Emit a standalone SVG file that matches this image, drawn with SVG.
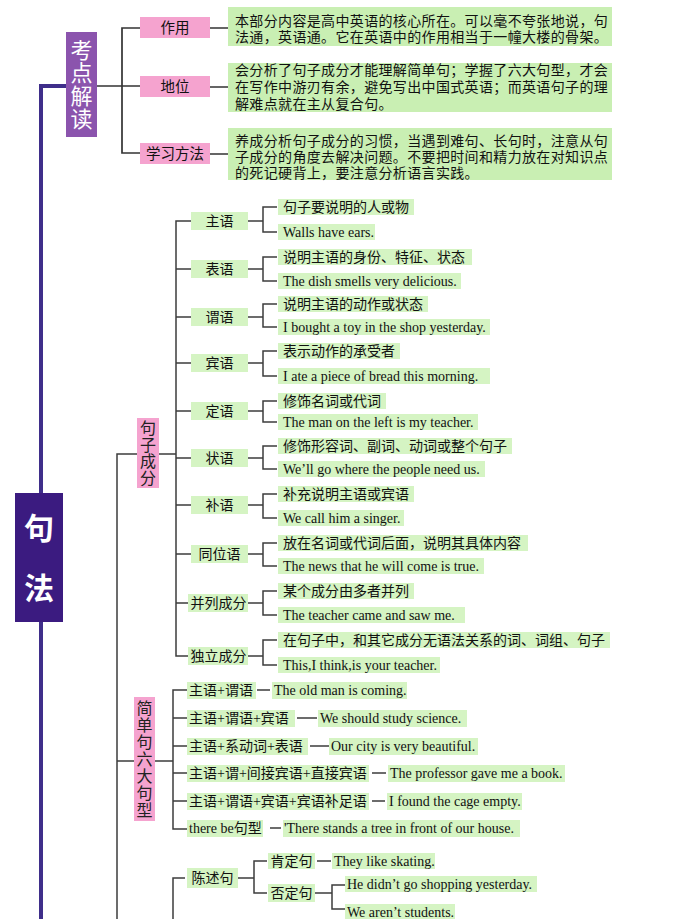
<svg xmlns="http://www.w3.org/2000/svg" width="690" height="919" viewBox="0 0 690 919">
<style>
.pk{fill:#f5a3cf}
.gr{fill:#d5f4c3}
.gt{fill:#c9efb3}
.t{font-family:"Liberation Serif","Noto Sans CJK SC",serif;font-size:14px;fill:#111}
.tc{font-family:"Liberation Serif","Noto Sans CJK SC",serif;font-size:14px;fill:#111;text-anchor:middle}
.tp{font-family:"Noto Sans CJK SC",sans-serif;font-size:14px;fill:#111;letter-spacing:0.35px}
.v{font-family:"Noto Sans CJK SC",sans-serif;font-size:16px;fill:#222;text-anchor:middle;writing-mode:vertical-rl}
.w{font-family:"Noto Sans CJK SC",sans-serif;fill:#fff;text-anchor:middle;writing-mode:vertical-rl}
.ln{stroke:#3d3d3d;stroke-width:1.5;fill:none}
.lt{stroke:#333;stroke-width:1.7;fill:none}
</style>
<rect width="690" height="919" fill="#fff"/>
<g id="connectors">
<path d="M66,86 H41 V919" stroke="#3f2e8a" stroke-width="4" fill="none"/>
<path class="lt" d="M97,86 H140 M140,28 H122 V153 H140 M210,28 H228 M210,87 H228 M210,154 H228"/>
<path class="ln" d="M117,919 V454 H137 M159,454 H176 M191,221 H176 V656 H188 M176,269 H191 M176,317 H191 M176,363 H191 M176,411 H191 M176,458 H191 M176,505 H191 M176,554 H191 M176,603 H188"/>
<path class="ln" d="M248,221 H263 M277,207 H263 V232 H277 M248,269 H263 M277,257 H263 V281 H277 M248,317 H263 M277,304 H263 V327 H277 M248,363 H263 M277,351 H263 V376 H277 M248,411 H263 M277,401 H263 V422 H277 M248,458 H263 M277,446 H263 V469 H277 M248,505 H263 M277,494 H263 V518 H277 M248,554 H263 M277,543 H263 V566 H277 M248,603 H263 M277,591 H263 V615 H277 M248,656 H263 M277,640 H263 V665 H277"/>
<path class="ln" d="M117,761 H134 M155,761 H173 M187,690 H173 V829 H187 M173,718 H187 M173,746 H187 M173,773 H187 M173,801 H187"/>
<path class="ln" d="M257,690 H270 M297,718 H317 M310,746 H329 M372,773 H386 M372,801 H385 M270,828 H281"/>
<path class="ln" d="M185,878 H173 V919 M238,878 H254 M267,861 H254 V893 H267 M317,861 H331 M315,893 H332 M345,885 H332 V909 H345"/>
</g>
<g id="node-kaodian">
<rect x="66" y="32" width="31" height="105" fill="#8b54ad"/>
<text class="w" x="81.5" y="85" font-size="22" letter-spacing="1">考点解读</text>
</g>
<g id="node-jufa">
<rect x="15" y="493" width="48" height="129" fill="#3b1b80"/>
<text class="w" x="39" y="573" font-size="30" font-weight="bold" letter-spacing="30">句法</text>
</g>
<g id="node-zuoyong">
<rect class="pk" x="140" y="17" width="70" height="21"/>
<text class="tc" x="175" y="33" style="font-size:14.5px">作用</text>
</g>
<g id="node-zuoyong-text">
<rect class="gt" x="228" y="7" width="384" height="39"/>
<text class="tp"><tspan x="235" y="26">本部分内容是高中英语的核心所在。可以毫不夸张地说，句</tspan><tspan x="235" y="42">法通，英语通。它在英语中的作用相当于一幢大楼的骨架。</tspan></text>
</g>
<g id="node-diwei">
<rect class="pk" x="140" y="76" width="70" height="21"/>
<text class="tc" x="175" y="92" style="font-size:14.5px">地位</text>
</g>
<g id="node-diwei-text">
<rect class="gt" x="228" y="63" width="384" height="49"/>
<text class="tp"><tspan x="235" y="75">会分析了句子成分才能理解简单句；学握了六大句型，才会</tspan><tspan x="235" y="92">在写作中游刃有余，避免写出中国式英语；而英语句子的理</tspan><tspan x="235" y="109">解难点就在主从复合句。</tspan></text>
</g>
<g id="node-fangfa">
<rect class="pk" x="140" y="143" width="70" height="21"/>
<text class="tc" x="175" y="159" style="font-size:14.5px">学习方法</text>
</g>
<g id="node-fangfa-text">
<rect class="gt" x="228" y="128" width="384" height="52"/>
<text class="tp"><tspan x="235" y="146">养成分析句子成分的习惯，当遇到难句、长句时，注意从句</tspan><tspan x="235" y="162">子成分的角度去解决问题。不要把时间和精力放在对知识点</tspan><tspan x="235" y="178">的死记硬背上，要注意分析语言实践。</tspan></text>
</g>
<g id="node-juzichengfen">
<rect class="pk" x="137" y="418" width="22" height="70"/>
<text class="v" x="148" y="453" letter-spacing="0.5">句子成分</text>
</g>
<g id="node-zhuyu">
<rect class="gr" x="191" y="212" width="57" height="18"/>
<text class="tc" x="219.5" y="226">主语</text>
<rect class="gr" x="278" y="199" width="136" height="16"/>
<text class="t" x="283" y="212">句子要说明的人或物</text>
<rect class="gr" x="278" y="224" width="97" height="16"/>
<text class="t" x="283" y="237">Walls have ears.</text>
</g>
<g id="node-biaoyu">
<rect class="gr" x="191" y="260" width="57" height="18"/>
<text class="tc" x="219.5" y="274">表语</text>
<rect class="gr" x="278" y="249" width="194" height="16"/>
<text class="t" x="283" y="262">说明主语的身份、特征、状态</text>
<rect class="gr" x="278" y="273" width="183" height="16"/>
<text class="t" x="283" y="286">The dish smells very delicious.</text>
</g>
<g id="node-weiyu">
<rect class="gr" x="191" y="308" width="57" height="18"/>
<text class="tc" x="219.5" y="322">谓语</text>
<rect class="gr" x="278" y="296" width="150" height="16"/>
<text class="t" x="283" y="309">说明主语的动作或状态</text>
<rect class="gr" x="278" y="319" width="212" height="16"/>
<text class="t" x="283" y="332">I bought a toy in the shop yesterday.</text>
</g>
<g id="node-binyu">
<rect class="gr" x="191" y="354" width="57" height="18"/>
<text class="tc" x="219.5" y="368">宾语</text>
<rect class="gr" x="278" y="343" width="122" height="16"/>
<text class="t" x="283" y="356">表示动作的承受者</text>
<rect class="gr" x="278" y="368" width="212" height="16"/>
<text class="t" x="283" y="381">I ate a piece of bread this morning.</text>
</g>
<g id="node-dingyu">
<rect class="gr" x="191" y="402" width="57" height="18"/>
<text class="tc" x="219.5" y="416">定语</text>
<rect class="gr" x="278" y="393" width="108" height="16"/>
<text class="t" x="283" y="406">修饰名词或代词</text>
<rect class="gr" x="278" y="414" width="200" height="16"/>
<text class="t" x="283" y="427">The man on the left is my teacher.</text>
</g>
<g id="node-zhuangyu">
<rect class="gr" x="191" y="449" width="57" height="18"/>
<text class="tc" x="219.5" y="463">状语</text>
<rect class="gr" x="278" y="438" width="234" height="16"/>
<text class="t" x="283" y="451">修饰形容词、副词、动词或整个句子</text>
<rect class="gr" x="278" y="461" width="207" height="16"/>
<text class="t" x="283" y="474">We’ll go where the people need us.</text>
</g>
<g id="node-buyu">
<rect class="gr" x="191" y="496" width="57" height="18"/>
<text class="tc" x="219.5" y="510">补语</text>
<rect class="gr" x="278" y="486" width="136" height="16"/>
<text class="t" x="283" y="499">补充说明主语或宾语</text>
<rect class="gr" x="278" y="510" width="126" height="16"/>
<text class="t" x="283" y="523">We call him a singer.</text>
</g>
<g id="node-tongweiyu">
<rect class="gr" x="191" y="545" width="57" height="18"/>
<text class="tc" x="219.5" y="559">同位语</text>
<rect class="gr" x="278" y="535" width="250" height="16"/>
<text class="t" x="283" y="548">放在名词或代词后面，说明其具体内容</text>
<rect class="gr" x="278" y="558" width="206" height="16"/>
<text class="t" x="283" y="571">The news that he will come is true.</text>
</g>
<g id="node-binglie">
<rect class="gr" x="188" y="594" width="60" height="18"/>
<text class="tc" x="218.5" y="608">并列成分</text>
<rect class="gr" x="278" y="583" width="136" height="16"/>
<text class="t" x="283" y="596">某个成分由多者并列</text>
<rect class="gr" x="278" y="607" width="187" height="16"/>
<text class="t" x="283" y="620">The teacher came and saw me.</text>
</g>
<g id="node-duli">
<rect class="gr" x="188" y="647" width="60" height="18"/>
<text class="tc" x="218.5" y="661">独立成分</text>
<rect class="gr" x="278" y="632" width="332" height="16"/>
<text class="t" x="283" y="645">在句子中，和其它成分无语法关系的词、词组、句子</text>
<rect class="gr" x="278" y="657" width="162" height="16"/>
<text class="t" x="283" y="670">This,I think,is your teacher.</text>
</g>
<g id="node-jiandanju">
<rect class="pk" x="134" y="697" width="21" height="124"/>
<text class="v" x="144.5" y="759" letter-spacing="1">简单句六大句型</text>
</g>
<g id="node-sv">
<rect class="gr" x="187" y="682" width="69" height="17"/>
<text class="t" x="189" y="695">主语+谓语</text>
<rect class="gr" x="272" y="682" width="135" height="17"/>
<text class="t" x="274" y="695">The old man is coming.</text>
</g>
<g id="node-svo">
<rect class="gr" x="187" y="710" width="108" height="17"/>
<text class="t" x="189" y="723">主语+谓语+宾语</text>
<rect class="gr" x="318" y="710" width="149" height="17"/>
<text class="t" x="320" y="723">We should study science.</text>
</g>
<g id="node-svp">
<rect class="gr" x="187" y="738" width="121" height="17"/>
<text class="t" x="189" y="751">主语+系动词+表语</text>
<rect class="gr" x="329" y="738" width="149" height="17"/>
<text class="t" x="331" y="751">Our city is very beautiful.</text>
</g>
<g id="node-svoo">
<rect class="gr" x="187" y="765" width="182" height="17"/>
<text class="t" x="189" y="778">主语+谓+间接宾语+直接宾语</text>
<rect class="gr" x="388" y="765" width="177" height="17"/>
<text class="t" x="390" y="778">The professor gave me a book.</text>
</g>
<g id="node-svoc">
<rect class="gr" x="187" y="793" width="182" height="17"/>
<text class="t" x="189" y="806">主语+谓语+宾语+宾语补足语</text>
<rect class="gr" x="387" y="793" width="135" height="17"/>
<text class="t" x="389" y="806">I found the cage empty.</text>
</g>
<g id="node-therebe">
<rect class="gr" x="187" y="820" width="76" height="17"/>
<text class="t" x="189" y="833">there be句型</text>
<rect class="gr" x="283" y="820" width="237" height="17"/>
<text class="t" x="284" y="833">'There stands a tree in front of our house.</text>
</g>
<g id="node-chenshuju">
<rect class="gr" x="187" y="868" width="51" height="20"/>
<text class="tc" x="212.5" y="883">陈述句</text>
</g>
<g id="node-kendingju">
<rect class="gr" x="268" y="853" width="47" height="16"/>
<text class="tc" x="291.5" y="866">肯定句</text>
<rect class="gr" x="332" y="853" width="103" height="16"/>
<text class="t" x="334" y="866">They like skating.</text>
</g>
<g id="node-foudingju">
<rect class="gr" x="268" y="884" width="47" height="18"/>
<text class="tc" x="291.5" y="898">否定句</text>
<rect class="gr" x="345" y="876" width="192" height="16"/>
<text class="t" x="347" y="889">He didn’t go shopping yesterday.</text>
<rect class="gr" x="345" y="904" width="110" height="16"/>
<text class="t" x="347" y="917">We aren’t students.</text>
</g>
</svg>
